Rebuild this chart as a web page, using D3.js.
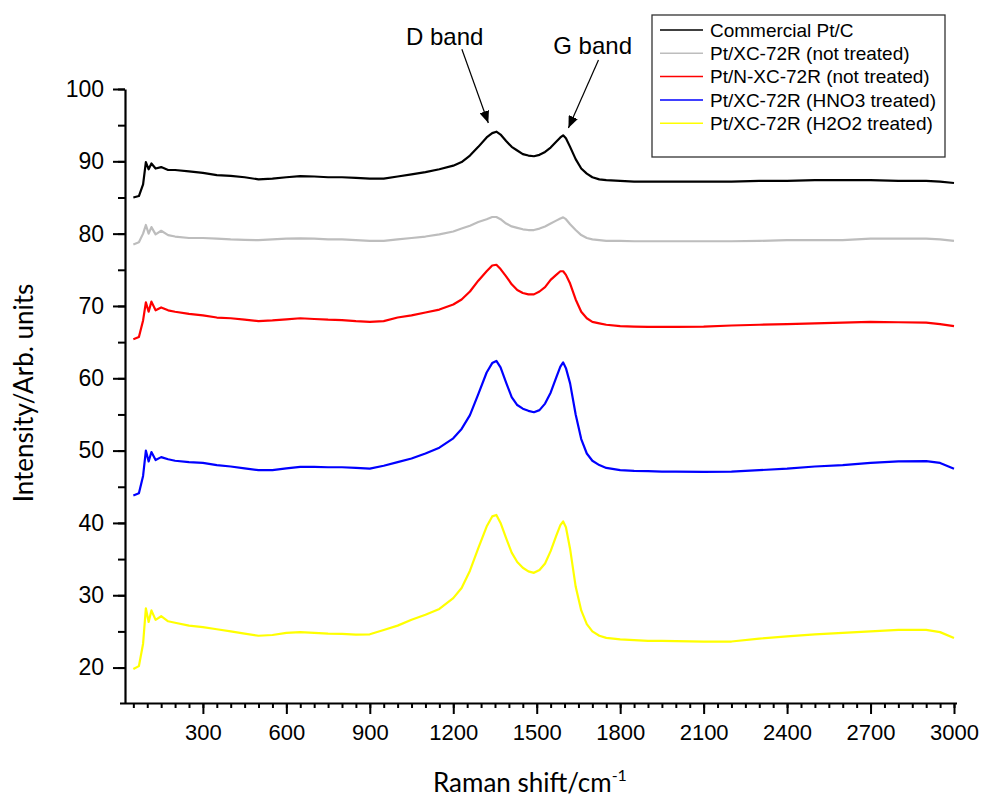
<!DOCTYPE html>
<html>
<head>
<meta charset="utf-8">
<script src="https://cdn.jsdelivr.net/npm/d3@7"></script>
<style>
  body { margin: 0; background: #fff; }
  svg { display: block; }
  .tick text { font-family: "Liberation Sans", Arial, sans-serif; }
</style>
</head>
<body>
<svg id="chart" width="984" height="801"></svg>
<script>
// Raman shift (cm-1) sample positions
const shift = [50, 70, 85, 95, 105, 115, 130, 150, 175, 200, 250, 300, 350, 400, 450, 500, 550, 600, 650, 700,
  750, 800, 850, 900, 950, 1000, 1050, 1100, 1150, 1200, 1230, 1260, 1290, 1320, 1340, 1355, 1370, 1390, 1410, 1430,
  1450, 1470, 1490, 1510, 1530, 1550, 1570, 1585, 1595, 1605, 1620, 1640, 1660, 1680, 1700, 1725, 1750, 1800, 1850, 1900,
  1950, 2000, 2100, 2200, 2300, 2400, 2500, 2600, 2700, 2800, 2900, 2950, 3000];

const commercial = [85.0, 85.2, 86.8, 89.9, 88.9, 89.7, 89.0, 89.2, 88.8, 88.8, 88.6, 88.4, 88.1, 88.0, 87.8, 87.5, 87.6, 87.8, 87.95, 87.9,
  87.8, 87.8, 87.7, 87.6, 87.6, 87.9, 88.2, 88.5, 88.9, 89.4, 89.9, 90.8, 92.0, 93.3, 93.9, 94.1, 93.7, 92.8, 92.0, 91.5,
  91.0, 90.8, 90.7, 90.9, 91.3, 91.9, 92.7, 93.3, 93.6, 93.2, 92.0, 90.3, 89.0, 88.3, 87.8, 87.5, 87.4, 87.3, 87.2, 87.2,
  87.2, 87.2, 87.2, 87.2, 87.3, 87.3, 87.4, 87.4, 87.4, 87.3, 87.3, 87.2, 87.0];

const xcNotTreated = [78.5, 78.8, 80.0, 81.2, 80.0, 80.9, 79.9, 80.4, 79.8, 79.6, 79.4, 79.4, 79.3, 79.2, 79.15, 79.1, 79.2, 79.3, 79.35, 79.3,
  79.2, 79.2, 79.1, 79.0, 79.0, 79.2, 79.4, 79.6, 79.9, 80.3, 80.7, 81.1, 81.6, 82.0, 82.3, 82.3, 82.0, 81.4, 81.0, 80.8,
  80.6, 80.5, 80.5, 80.7, 81.0, 81.4, 81.8, 82.1, 82.25, 82.0, 81.3, 80.5, 79.8, 79.4, 79.2, 79.1, 79.0, 79.0, 78.95, 78.95,
  78.95, 78.95, 78.95, 78.95, 79.0, 79.1, 79.1, 79.1, 79.3, 79.3, 79.3, 79.2, 79.0];

const nxcNotTreated = [65.4, 65.7, 68.0, 70.5, 69.2, 70.6, 69.4, 69.8, 69.4, 69.2, 68.9, 68.7, 68.4, 68.3, 68.1, 67.9, 68.0, 68.15, 68.3, 68.2,
  68.1, 68.05, 67.9, 67.8, 67.9, 68.4, 68.7, 69.1, 69.5, 70.2, 70.9, 72.0, 73.5, 74.8, 75.6, 75.7, 75.1, 74.1, 73.0, 72.2,
  71.8, 71.6, 71.6, 72.0, 72.6, 73.6, 74.3, 74.8, 74.8, 74.3, 73.1, 70.9, 69.2, 68.3, 67.8, 67.6, 67.4, 67.2, 67.15, 67.1,
  67.1, 67.1, 67.15, 67.3, 67.4, 67.5, 67.6, 67.7, 67.8, 67.75, 67.7, 67.5, 67.2];

const xcHNO3 = [43.8, 44.1, 46.5, 50.0, 48.5, 49.8, 48.7, 49.1, 48.8, 48.6, 48.4, 48.3, 48.0, 47.8, 47.55, 47.3, 47.3, 47.55, 47.75, 47.75,
  47.7, 47.7, 47.6, 47.5, 47.9, 48.4, 48.9, 49.6, 50.4, 51.7, 53.0, 54.9, 57.8, 60.8, 62.1, 62.4, 61.5, 59.4, 57.4, 56.3,
  55.8, 55.5, 55.3, 55.6, 56.5, 58.0, 60.1, 61.6, 62.2, 61.4, 59.3, 55.0, 51.6, 49.6, 48.6, 48.0, 47.6, 47.3, 47.2, 47.15,
  47.1, 47.1, 47.05, 47.1, 47.3, 47.5, 47.8, 48.0, 48.3, 48.5, 48.55, 48.3, 47.5];

const xcH2O2 = [19.8, 20.2, 23.3, 28.2, 26.3, 27.9, 26.6, 27.1, 26.4, 26.2, 25.8, 25.6, 25.3, 25.0, 24.7, 24.4, 24.5, 24.8, 24.9, 24.8,
  24.7, 24.65, 24.55, 24.6, 25.2, 25.8, 26.6, 27.3, 28.1, 29.6, 31.0, 33.4, 36.5, 39.5, 40.9, 41.1, 40.0, 37.9, 35.9, 34.6,
  33.8, 33.3, 33.1, 33.5, 34.4, 36.1, 38.2, 39.7, 40.2, 39.4, 36.4, 31.2, 27.9, 26.0, 25.0, 24.4, 24.1, 23.9, 23.8, 23.7,
  23.7, 23.65, 23.6, 23.6, 24.0, 24.3, 24.6, 24.8, 25.0, 25.2, 25.2, 24.9, 24.1];

const seriesNames = ["Commercial Pt/C", "Pt/XC-72R (not treated)", "Pt/N-XC-72R (not treated)",
  "Pt/XC-72R (HNO3 treated)", "Pt/XC-72R (H2O2 treated)"];
const seriesValues = [commercial, xcNotTreated, nxcNotTreated, xcHNO3, xcH2O2];
const seriesColors = ["#000000", "#bdbdbd", "#ff0000", "#0000ff", "#ffff00"];

const xTicks = [300, 600, 900, 1200, 1500, 1800, 2100, 2400, 2700, 3000];
const yTicks = [20, 30, 40, 50, 60, 70, 80, 90, 100];

// annotation arrows, in data units: [label, label x, label y, arrow start x, y, arrow tip x, y]
const bands = [
  ["D band", 1169, 106.1, 1231, 105.5, 1326, 95.3],
  ["G band", 1701, 104.9, 1722, 104.0, 1614, 94.6]
];

const svg = d3.select("#chart");

const x = d3.scaleLinear().domain([20, 3000]).range([125, 954]);
const y = d3.scaleLinear().domain([15.1, 100]).range([703, 89]);

// minor ticks
svg.append("g")
  .attr("transform", "translate(0,703)")
  .call(d3.axisBottom(x).tickValues(d3.range(50, 3001, 50)).tickSize(5).tickSizeOuter(0).tickFormat(""))
  .call(g => g.select(".domain").remove())
  .call(g => g.selectAll("line").attr("stroke-width", 2));

svg.append("g")
  .attr("transform", "translate(125,0)")
  .call(d3.axisLeft(y).tickValues(d3.range(20, 101, 5)).tickSize(7).tickSizeOuter(0).tickFormat(""))
  .call(g => g.select(".domain").remove())
  .call(g => g.selectAll("line").attr("stroke-width", 2));

// major axes
svg.append("g")
  .attr("transform", "translate(0,703)")
  .call(d3.axisBottom(x).tickValues(xTicks).tickSize(11).tickSizeOuter(0).tickPadding(10).tickFormat(d3.format("d")))
  .call(g => g.select(".domain").attr("stroke-width", 2.2).attr("d", "M120,0.5H957"))
  .call(g => g.selectAll("line").attr("stroke-width", 2))
  .call(g => g.selectAll("text").attr("font-size", 22).attr("fill", "#000"));

svg.append("g")
  .attr("transform", "translate(125,0)")
  .call(d3.axisLeft(y).tickValues(yTicks).tickSize(12).tickSizeOuter(0).tickPadding(9))
  .call(g => g.select(".domain").attr("stroke-width", 2.2))
  .call(g => g.selectAll("line").attr("stroke-width", 2))
  .call(g => g.selectAll("text").attr("font-size", 23).attr("fill", "#000"));

// spectra
const line = d3.line()
  .x(d => x(d[0]))
  .y(d => y(d[1]));

seriesValues.forEach((vals, i) => {
  svg.append("path")
    .datum(shift.map((s, j) => [s, vals[j]]))
    .attr("fill", "none")
    .attr("stroke", seriesColors[i])
    .attr("stroke-width", 2.2)
    .attr("stroke-linejoin", "round")
    .attr("d", line);
});

// axis titles
svg.append("text")
  .attr("transform", "translate(33,393) rotate(-90)")
  .attr("text-anchor", "middle")
  .attr("font-family", "Lato, 'Open Sans', sans-serif")
  .attr("font-size", 26)
  .text("Intensity/Arb. units");

const xt = svg.append("text")
  .attr("x", 433)
  .attr("y", 792)
  .attr("font-family", "Lato, 'Open Sans', sans-serif")
  .attr("font-size", 26);
xt.append("tspan").text("Raman shift/cm");
xt.append("tspan").attr("font-size", 16).attr("dy", -11).text("-1");

// band annotations
svg.append("defs").append("marker")
  .attr("id", "arrow")
  .attr("viewBox", "0 0 12 10")
  .attr("refX", 12).attr("refY", 5)
  .attr("markerWidth", 12).attr("markerHeight", 10)
  .attr("markerUnits", "userSpaceOnUse")
  .attr("orient", "auto")
  .append("path").attr("d", "M0,0L12,5L0,10Z").attr("fill", "#000");

bands.forEach(b => {
  svg.append("text")
    .attr("x", x(b[1])).attr("y", y(b[2]))
    .attr("text-anchor", "middle")
    .attr("font-family", "'Liberation Sans', Arial, sans-serif")
    .attr("font-size", 24)
    .text(b[0]);
  svg.append("line")
    .attr("x1", x(b[3])).attr("y1", y(b[4]))
    .attr("x2", x(b[5])).attr("y2", y(b[6]))
    .attr("stroke", "#000").attr("stroke-width", 1.2)
    .attr("marker-end", "url(#arrow)");
});

// legend
const legend = svg.append("g").attr("transform", "translate(652,15)");
legend.append("rect")
  .attr("width", 293).attr("height", 142)
  .attr("fill", "#fff").attr("stroke", "#333").attr("stroke-width", 1.3);

seriesNames.forEach((name, i) => {
  const row = legend.append("g").attr("transform", `translate(0,${15 + i * 23.3})`);
  row.append("line")
    .attr("x1", 8).attr("x2", 51)
    .attr("stroke", seriesColors[i]).attr("stroke-width", 1.5);
  row.append("text")
    .attr("x", 58).attr("dy", "0.35em")
    .attr("font-family", "'Liberation Sans', Arial, sans-serif")
    .attr("font-size", 19)
    .text(name);
});
</script>
</body>
</html>
